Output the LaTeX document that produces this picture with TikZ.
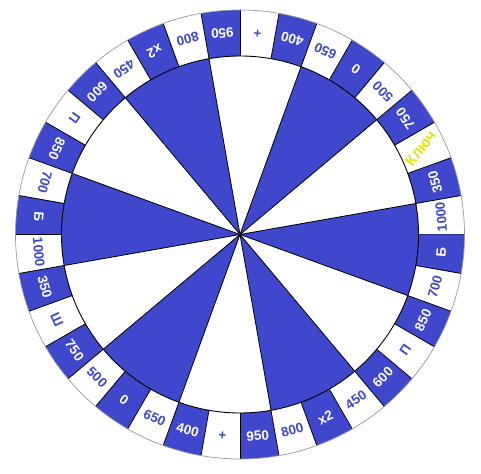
\documentclass[tikz,border=0pt]{standalone}
\usepackage{fontspec}
\setmainfont{Liberation Sans}
\definecolor{wheelblue}{RGB}{63,72,204}
\definecolor{keyyellow}{RGB}{228,228,10}
\begin{document}
\begin{tikzpicture}[x=1pt,y=1pt,
  lbl/.style={font=\fontsize{13.5}{14}\selectfont\bfseries, inner sep=0pt},
  spoke/.style={draw=black, line width=0.8pt},
  rim/.style={draw=black!40, line width=0.7pt},
  hub/.style={draw=black, line width=0.9pt}]
\useasboundingbox (0,0) rectangle (481,473);
\coordinate (c) at (240,238.5);
\def\Ro{224.5}\def\Ri{178.5}\def\Rt{202}
\begin{scope}[shift={(c)}]
  % outer ring segments
  \foreach \i/\t in {0/1000,1/350,2/Ключ,3/750,4/500,5/0,6/650,7/400,8/+,9/950,
                     10/800,11/x2,12/450,13/600,14/П,15/850,16/700,17/Б,
                     18/1000,19/350,20/Ш,21/750,22/500,23/0,24/650,25/400,26/+,27/950,
                     28/800,29/x2,30/450,31/600,32/П,33/850,34/700,35/Б}{
    \pgfmathsetmacro{\a}{10*\i}
    \pgfmathsetmacro{\b}{10*\i+10}
    \pgfmathsetmacro{\m}{10*\i+5}
    \pgfmathsetmacro{\r}{10*\i+95}
    \ifodd\i \def\fc{wheelblue}\def\tc{white}\else \def\fc{white}\def\tc{wheelblue}\fi
    \fill[\fc] (\a:\Ri) arc[start angle=\a, end angle=\b, radius=\Ri]
      -- (\b:\Ro) arc[start angle=\b, end angle=\a, radius=\Ro] -- cycle;
    \draw[spoke] (\a:\Ri) -- (\a:\Ro);
    \ifnum\i=2\relax
      \node[lbl, font=\fontsize{15}{16}\selectfont\bfseries, text=keyyellow, rotate=52] (l\i) at (25.5:200) {\t};
    \else
      \node[lbl, text=\tc, rotate=\r] (l\i) at (\m:\Rt) {\t};
    \fi
  }
  % inner wedges
  \foreach \k in {0,...,5}{
    \pgfmathsetmacro{\a}{40+60*\k}
    \pgfmathsetmacro{\b}{70+60*\k}
    \fill[wheelblue] (0,0) -- (\a:\Ri) arc[start angle=\a, end angle=\b, radius=\Ri] -- cycle;
  }
  \foreach \k in {0,...,11}{
    \pgfmathsetmacro{\a}{40+30*\k}
    \draw[spoke] (0,0) -- (\a:\Ri);
  }
  \draw[hub] (0,0) circle[radius=\Ri];
  \draw[rim] (0,0) circle[radius=\Ro];
\end{scope}
\end{tikzpicture}
\end{document}
